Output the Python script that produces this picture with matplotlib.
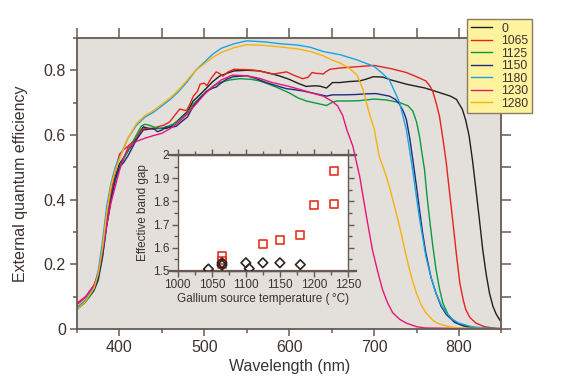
import matplotlib
matplotlib.use("Agg")
import matplotlib.pyplot as plt
from matplotlib.lines import Line2D
from matplotlib.ticker import MultipleLocator, FixedLocator, FixedFormatter

plt.rcParams['font.family'] = ['Liberation Sans', 'DejaVu Sans']

# ---------------- data ----------------
series_labels = ['0', '1065', '1125', '1150', '1180', '1230', '1280']
series_colors = ['#231f20', '#e8231c', '#0b9a3c', '#1f2a7a', '#1aa3e0', '#e8157d', '#f7b20c']

wl_0 = [350, 360, 370, 375, 380, 385, 390, 395, 400, 405, 410, 415, 420, 428, 435, 440, 448, 455, 460, 467, 475, 480,
        487, 495, 503, 510, 518, 526, 535, 550, 565, 578, 589, 600, 610, 620, 630, 636, 644, 651, 660, 670, 683, 690,
        699, 710, 720, 738, 760, 777, 790, 797, 804, 808, 812, 816, 820, 824, 828, 832, 836, 840, 844, 848, 850]
eqe_0 = [0.065, 0.088, 0.125, 0.16, 0.23, 0.33, 0.41, 0.47, 0.51, 0.53, 0.55, 0.57, 0.59, 0.625, 0.62, 0.62, 0.62,
         0.62, 0.625, 0.64, 0.66, 0.672, 0.705, 0.725, 0.746, 0.765, 0.782, 0.79, 0.798, 0.8, 0.798, 0.79, 0.782,
         0.772, 0.76, 0.75, 0.752, 0.751, 0.745, 0.762, 0.762, 0.765, 0.767, 0.772, 0.78, 0.779, 0.77, 0.757, 0.745,
         0.731, 0.72, 0.71, 0.679, 0.645, 0.596, 0.52, 0.431, 0.34, 0.245, 0.17, 0.11, 0.07, 0.045, 0.028, 0.022]

wl_1065 = [350, 360, 370, 375, 380, 385, 390, 395, 400, 405, 410, 416, 420, 425, 430, 435, 440, 445, 452, 459, 465,
           471, 479, 483, 487, 492, 495, 500, 503, 508, 514, 518, 522, 528, 535, 550, 560, 570, 581, 590, 597, 605,
           616, 622, 627, 633, 636, 640, 643, 648, 660, 680, 700, 720, 738, 750, 761, 766, 769, 773, 777, 781, 785,
           789, 793, 797, 801, 805, 808, 813, 820, 830, 840, 850]
eqe_1065 = [0.075, 0.098, 0.135, 0.17, 0.24, 0.33, 0.42, 0.49, 0.54, 0.555, 0.565, 0.58, 0.59, 0.615, 0.62, 0.62,
            0.618, 0.625, 0.63, 0.64, 0.66, 0.68, 0.675, 0.695, 0.72, 0.735, 0.757, 0.76, 0.752, 0.775, 0.795, 0.79,
            0.782, 0.795, 0.803, 0.802, 0.8, 0.795, 0.788, 0.792, 0.795, 0.785, 0.774, 0.778, 0.793, 0.79, 0.79,
            0.788, 0.795, 0.803, 0.807, 0.811, 0.815, 0.805, 0.793, 0.78, 0.767, 0.75, 0.736, 0.70, 0.658, 0.59,
            0.514, 0.42, 0.327, 0.23, 0.142, 0.09, 0.06, 0.035, 0.018, 0.007, 0.003, 0.001]

wl_1125 = [350, 360, 370, 375, 380, 385, 390, 395, 400, 405, 410, 420, 426, 430, 435, 440, 448, 455, 463, 470, 479,
           487, 495, 503, 510, 518, 530, 542, 555, 565, 578, 589, 600, 610, 620, 632, 644, 650, 656, 670, 683, 700,
           715, 730, 740, 745.6, 750, 753.5, 756, 759.4, 762, 765, 769, 773, 777, 781, 787, 793, 800, 810, 850]
eqe_1125 = [0.06, 0.083, 0.118, 0.15, 0.22, 0.32, 0.40, 0.46, 0.5, 0.525, 0.55, 0.6, 0.628, 0.633, 0.63, 0.625,
            0.62, 0.625, 0.633, 0.645, 0.665, 0.695, 0.715, 0.736, 0.75, 0.762, 0.77, 0.774, 0.772, 0.767, 0.755,
            0.743, 0.73, 0.715, 0.705, 0.698, 0.691, 0.7, 0.705, 0.705, 0.706, 0.711, 0.708, 0.70, 0.69, 0.674,
            0.64, 0.596, 0.55, 0.493, 0.42, 0.348, 0.26, 0.183, 0.125, 0.08, 0.045, 0.028, 0.015, 0.005, 0.0]

wl_1150 = [350, 360, 370, 375, 380, 385, 390, 395, 400, 405, 410, 415, 420, 428, 435, 440, 445, 450, 455, 460, 467,
           475, 480, 487, 495, 503, 510, 514, 518, 526, 534, 550, 560, 573, 585, 597, 606, 616, 630, 644, 651, 665,
           679, 690, 702, 718, 725, 730, 735, 738, 742, 745.6, 750, 753.5, 757, 761, 767, 773, 779, 785, 795, 805,
           820, 850]
eqe_1150 = [0.062, 0.085, 0.12, 0.155, 0.225, 0.32, 0.40, 0.46, 0.5, 0.515, 0.535, 0.56, 0.585, 0.615, 0.618, 0.62,
            0.61, 0.615, 0.625, 0.623, 0.627, 0.645, 0.655, 0.689, 0.715, 0.735, 0.745, 0.748, 0.757, 0.772, 0.78,
            0.783, 0.775, 0.762, 0.752, 0.743, 0.74, 0.736, 0.728, 0.72, 0.724, 0.724, 0.725, 0.727, 0.728, 0.72,
            0.71, 0.695, 0.67, 0.648, 0.59, 0.524, 0.44, 0.369, 0.30, 0.235, 0.16, 0.11, 0.07, 0.045, 0.02, 0.01,
            0.003, 0.0]

wl_1180 = [350, 360, 370, 375, 380, 385, 390, 395, 400, 410, 420, 430, 440, 450, 460, 470, 480, 490, 500, 510, 520,
           535, 550, 570, 590, 610, 625, 640, 650, 660, 680, 700, 710, 718, 725, 730, 738, 745, 753, 761, 767, 773,
           779, 785, 792, 800, 815, 830, 850]
eqe_1180 = [0.065, 0.09, 0.13, 0.18, 0.27, 0.38, 0.45, 0.50, 0.53, 0.59, 0.63, 0.655, 0.67, 0.69, 0.71, 0.735,
            0.765, 0.8, 0.825, 0.85, 0.868, 0.882, 0.891, 0.888, 0.882, 0.878, 0.871, 0.858, 0.853, 0.848, 0.832,
            0.812, 0.79, 0.77, 0.73, 0.70, 0.617, 0.50, 0.35, 0.224, 0.16, 0.11, 0.075, 0.05, 0.03, 0.018, 0.007,
            0.003, 0.001]

wl_1230 = [350, 360, 370, 375, 380, 385, 390, 395, 400, 405, 410, 420, 430, 440, 450, 460, 470, 480, 490, 500, 510,
           520, 533, 550, 565, 580, 600, 620, 640, 650, 657, 663, 668, 675, 683, 691, 698, 704, 710, 716, 722, 730,
           738, 750, 760, 850]
eqe_1230 = [0.08, 0.1, 0.135, 0.17, 0.24, 0.32, 0.39, 0.44, 0.49, 0.53, 0.56, 0.58, 0.59, 0.598, 0.605, 0.62, 0.64,
            0.665, 0.695, 0.725, 0.75, 0.77, 0.785, 0.783, 0.775, 0.762, 0.75, 0.735, 0.72, 0.705, 0.69, 0.66, 0.615,
            0.565, 0.472, 0.348, 0.245, 0.18, 0.121, 0.08, 0.05, 0.03, 0.018, 0.007, 0.003, 0.0]

wl_1280 = [350, 360, 370, 375, 380, 385, 390, 395, 400, 410, 420, 430, 440, 450, 460, 470, 480, 490, 500, 510, 520,
           535, 550, 570, 590, 610, 625, 640, 650, 660, 670, 680, 687, 695, 700, 706, 712, 718, 724, 730, 738, 744,
           750, 755, 761, 770, 777, 790, 800, 850]
eqe_1280 = [0.06, 0.085, 0.125, 0.17, 0.25, 0.36, 0.44, 0.49, 0.525, 0.59, 0.635, 0.66, 0.675, 0.695, 0.715, 0.74,
            0.77, 0.8, 0.82, 0.84, 0.855, 0.87, 0.879, 0.877, 0.872, 0.866, 0.858, 0.845, 0.832, 0.822, 0.808, 0.785,
            0.74, 0.66, 0.62, 0.534, 0.49, 0.44, 0.38, 0.317, 0.224, 0.16, 0.11, 0.077, 0.05, 0.025, 0.015, 0.006,
            0.003, 0.0]

series_wl = [wl_0, wl_1065, wl_1125, wl_1150, wl_1180, wl_1230, wl_1280]
series_eqe = [eqe_0, eqe_1065, eqe_1125, eqe_1150, eqe_1180, eqe_1230, eqe_1280]

# inset data
sq_temp = [1065, 1065, 1065, 1125, 1150, 1180, 1200, 1230, 1230]
sq_gap = [1.565, 1.545, 1.530, 1.615, 1.635, 1.655, 1.785, 1.930, 1.790]
dia_temp = [1045, 1065, 1065, 1100, 1105, 1125, 1150, 1180]
dia_gap = [1.508, 1.535, 1.525, 1.535, 1.510, 1.535, 1.535, 1.527]

x_ticks = [400, 500, 600, 700, 800]
y_ticks = [0, 0.2, 0.4, 0.6, 0.8]
y_ticklabels = ['0', '0.2', '0.4', '0.6', '0.8']
in_x_ticks = [1000, 1050, 1100, 1150, 1200, 1250]
in_y_ticks = [1.5, 1.6, 1.7, 1.8, 1.9, 2.0]
in_y_ticklabels = ['1.5', '1.6', '1.7', '1.8', '1.9', '2']

# ---------------- style ----------------
TXT = '#3a3330'
SPN = '#655a53'
BG = '#e3dfdb'

fig = plt.figure(figsize=(5.79, 3.87), dpi=100)
ax = fig.add_axes([0.133, 0.150, 0.733, 0.752])
ax.set_facecolor(BG)

for wl, eq, c, lab in zip(series_wl, series_eqe, series_colors, series_labels):
    ax.plot(wl, eq, color=c, lw=1.0, label=lab)

ax.set_xlim(350, 850)
ax.set_ylim(0, 0.9)
ax.xaxis.set_major_locator(FixedLocator(x_ticks))
ax.xaxis.set_minor_locator(MultipleLocator(50))
ax.yaxis.set_major_locator(FixedLocator(y_ticks))
ax.yaxis.set_major_formatter(FixedFormatter(y_ticklabels))
ax.yaxis.set_minor_locator(MultipleLocator(0.1))
ax.tick_params(which='major', direction='out', length=5, width=1.1, color=SPN,
               labelsize=11.5, labelcolor=TXT, pad=3)
ax.tick_params(which='minor', direction='out', length=3, width=1.1, color=SPN)
for s in ax.spines.values():
    s.set_color(SPN)
    s.set_linewidth(1.3)

# top and right outward ticks
secx = ax.secondary_xaxis('top')
secx.xaxis.set_major_locator(MultipleLocator(50))
secx.tick_params(direction='out', length=7, width=1.1, color=SPN, labeltop=False)
secx.spines['top'].set_visible(False)
secy = ax.secondary_yaxis('right')
secy.yaxis.set_major_locator(MultipleLocator(0.1))
secy.tick_params(direction='out', length=7, width=1.1, color=SPN, labelright=False)
secy.spines['right'].set_visible(False)

ax.set_xlabel('Wavelength (nm)', fontsize=11.5, color=TXT, labelpad=3)
ax.set_ylabel('External quantum efficiency', fontsize=11.5, color=TXT, labelpad=11)

# legend
handles = [Line2D([0], [0], color=c, lw=1.0) for c in series_colors]
leg = fig.legend(handles, series_labels, loc='upper left', bbox_to_anchor=(0.807, 0.951),
                 fontsize=8.8, frameon=True, fancybox=False, framealpha=1, handlelength=1.7,
                 handletextpad=0.8, labelspacing=0.04, borderpad=0.3, borderaxespad=0)
leg.get_frame().set_facecolor('#fff39d')
leg.get_frame().set_edgecolor('#8a7b66')
leg.get_frame().set_linewidth(1.0)
for t in leg.get_texts():
    t.set_color(TXT)

# ---------------- inset ----------------
ia = fig.add_axes([0.307, 0.300, 0.294, 0.2995])
ia.set_facecolor('white')
ia.scatter(sq_temp, sq_gap, marker='s', s=32, facecolors='none', edgecolors='#e5341f', linewidths=1.2, zorder=3)
ia.scatter(dia_temp, dia_gap, marker='D', s=24, facecolors='none', edgecolors='#2b2422', linewidths=1.2, zorder=4)
ia.set_xlim(1000, 1250)
ia.set_ylim(1.5, 2.0)
ia.xaxis.set_major_locator(FixedLocator(in_x_ticks))
ia.xaxis.set_minor_locator(MultipleLocator(25))
ia.yaxis.set_major_locator(FixedLocator(in_y_ticks))
ia.yaxis.set_major_formatter(FixedFormatter(in_y_ticklabels))
ia.yaxis.set_minor_locator(MultipleLocator(0.05))
ia.tick_params(which='both', direction='out', length=4, width=1.0, color=SPN,
               labelsize=8.5, labelcolor=TXT, pad=2, top=True, right=True)
ia.tick_params(which='minor', length=3)
for s in ia.spines.values():
    s.set_color(SPN)
    s.set_linewidth(1.0)
for yy in (0, 1):
    ia.add_line(Line2D([-0.05, 1.05], [yy, yy], transform=ia.transAxes, color=SPN, lw=1.6, clip_on=False))
ia.set_xlabel('Gallium source temperature (\u2009\u00b0C)', fontsize=8.5, color=TXT, labelpad=1)
ia.set_ylabel('Effective band gap', fontsize=8.5, color=TXT, labelpad=3)

fig.savefig('out.png', dpi=100)
